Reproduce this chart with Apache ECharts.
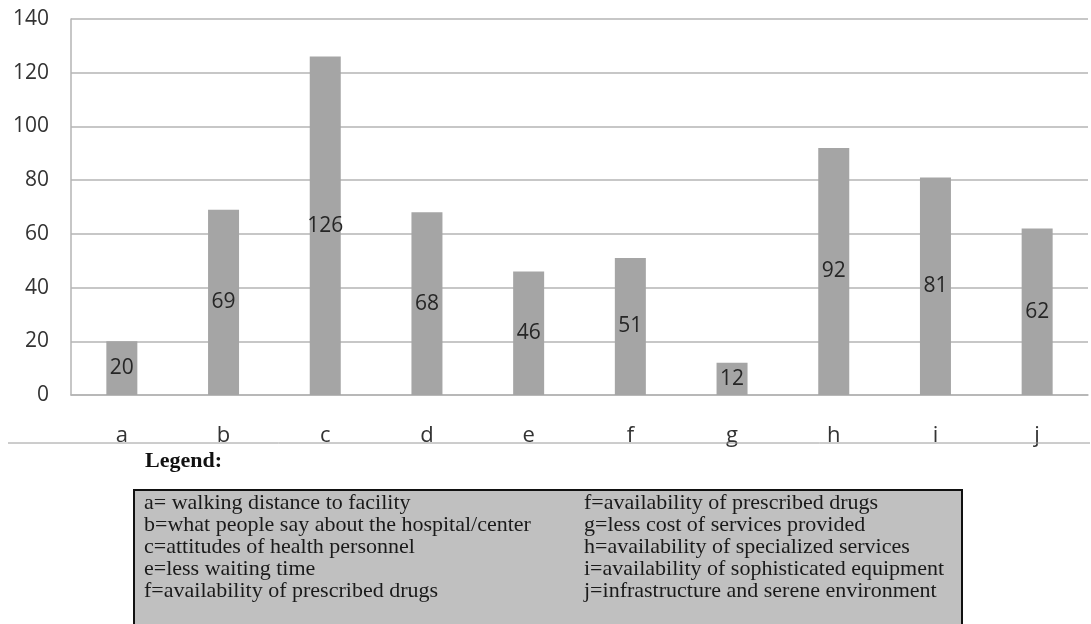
<!DOCTYPE html>
<html>
<head>
<meta charset="utf-8">
<script src="https://cdn.jsdelivr.net/npm/echarts@6/dist/echarts.min.js"></script>
<style>
  html, body { margin: 0; padding: 0; background: #fff; }
  #chart { width: 1091px; height: 624px; }
</style>
</head>
<body>
<div id="chart"></div>
<script>
// data
var categories = ['a', 'b', 'c', 'd', 'e', 'f', 'g', 'h', 'i', 'j'];
var counts = [20, 69, 126, 68, 46, 51, 12, 92, 81, 62];

var legendTitle = 'Legend:';
var legendLeft = [
  'a= walking distance to facility',
  'b=what people say about the hospital/center',
  'c=attitudes of health personnel',
  'e=less waiting time',
  'f=availability of prescribed drugs'
];
var legendRight = [
  'f=availability of prescribed drugs',
  'g=less cost of services provided',
  'h=availability of specialized services',
  'i=availability of sophisticated equipment',
  'j=infrastructure and serene environment'
];

var chart = echarts.init(document.getElementById('chart'), null, { renderer: 'canvas' });

var serif = '"Liberation Serif", "DejaVu Serif", serif';
var sans = '"Open Sans", "Liberation Sans", sans-serif';

var graphics = [];
// rule under the category labels
graphics.push({
  type: 'line', z: 10,
  shape: { x1: 8, y1: 443, x2: 1090, y2: 443 },
  style: { stroke: '#9a9a9a', lineWidth: 1 }
});
graphics.push({
  type: 'text', left: 145, top: 450,
  style: { text: legendTitle, font: 'bold 22px ' + serif, fill: '#111' }
});
// legend box
graphics.push({
  type: 'rect',
  shape: { x: 134, y: 490, width: 828, height: 150 },
  style: { fill: '#c0c0c0', stroke: '#111', lineWidth: 2 }
});
legendLeft.forEach(function (t, i) {
  graphics.push({
    type: 'text', left: 144, top: 492 + i * 22,
    style: { text: t, font: '22px ' + serif, fill: '#1a1a1a' }
  });
});
legendRight.forEach(function (t, i) {
  graphics.push({
    type: 'text', left: 584, top: 492 + i * 22,
    style: { text: t, font: '22px ' + serif, fill: '#1a1a1a' }
  });
});

chart.setOption({
  animation: false,
  backgroundColor: '#fff',
  grid: { left: 71, right: 3, top: 19, bottom: 229 },
  xAxis: {
    type: 'category',
    data: categories,
    axisLine: { show: true, lineStyle: { color: '#b4b4b4', width: 1.5 } },
    axisTick: { show: false },
    axisLabel: { color: '#333', fontSize: 22, fontFamily: sans, margin: 30 }
  },
  yAxis: {
    type: 'value',
    min: 0, max: 140, interval: 20,
    axisLine: { show: true, lineStyle: { color: '#b4b4b4', width: 1.5 } },
    axisTick: { show: false },
    splitLine: { lineStyle: { color: '#b4b4b4', width: 1.5 } },
    axisLabel: { color: '#333', fontSize: 21, fontFamily: sans, margin: 22 }
  },
  series: [{
    type: 'bar',
    data: counts,
    barWidth: 31,
    itemStyle: { color: '#a5a5a5' },
    label: {
      show: true, position: 'inside',
      color: '#262626', fontSize: 21, fontFamily: sans
    }
  }],
  graphic: graphics
});
</script>
</body>
</html>
